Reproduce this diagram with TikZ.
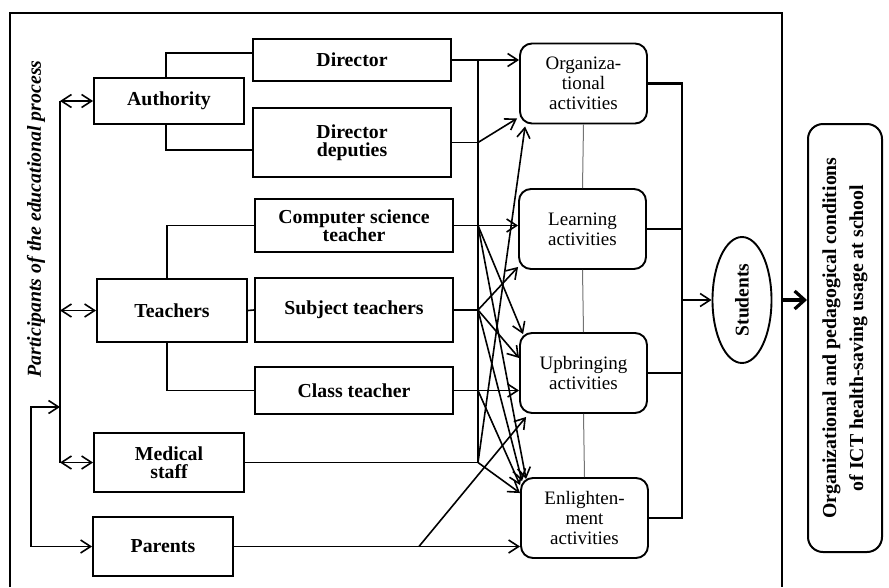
\documentclass[tikz,border=0pt]{standalone}
\usepackage{fontspec}
\setmainfont{Liberation Serif}
\usetikzlibrary{arrows.meta,calc,shapes.geometric}
\begin{document}
\begin{tikzpicture}[x=1pt,y=-1pt,
  box/.style={draw,line width=1.9pt,inner sep=0pt,align=center,font=\fontsize{19.8}{18.5}\selectfont\bfseries},
  act/.style={draw,line width=1.9pt,rounded corners=12pt,inner sep=0pt,minimum width=127pt,minimum height=80pt,align=center,font=\fontsize{19}{20}\selectfont},
  ln/.style={line width=1.6pt},
  arr/.style={ln,-{Straight Barb[length=10pt,width=13pt]}},
  dbl/.style={ln,{Straight Barb[length=10pt,width=13pt]}-{Straight Barb[length=10pt,width=13pt]}},
  sep/.style={black!55,line width=1pt},
  brk/.style={line width=2.8pt},
  big/.style={line width=3.2pt,-{Straight Barb[length=10pt,width=18pt]}}
]
\useasboundingbox (0,0) rectangle (889,587);
% frame
\draw[line width=1.9pt] (10,587) -- (10,13) -- (782,13) -- (782,587);
\coordinate (fr) at (782,0);
\coordinate (bus) at (478,0);
\coordinate (bx) at (682,0);
\coordinate (tr) at (60,0);
\coordinate (lx) at (31,0);

% participants label
\node[rotate=90,font=\fontsize{19.8}{22}\selectfont\bfseries\itshape] (part) at (36,219) {Participants of the educational process};

% left boxes
\node[box,minimum width=150pt,minimum height=46pt] (auth) at (169,101) {Authority};
\node[box,minimum width=150pt,minimum height=63pt] (teach) at (172,310.5) {Teachers};
\node[box,minimum width=150pt,minimum height=59pt] (med) at (169,462.5) {Medical\\staff};
\node[box,minimum width=140pt,minimum height=59pt] (par) at (163,546.5) {Parents};

% middle boxes
\node[box,minimum width=198pt,minimum height=42pt] (dir) at (352,60) {Director};
\node[box,minimum width=198pt,minimum height=69pt] (dep) at (352,142.5) {Director\\deputies};
\node[box,minimum width=198pt,minimum height=53pt] (cs) at (354,225.5) {Computer science\\teacher};
\node[box,minimum width=198pt,minimum height=64pt] (subj) at (354,310) {Subject teachers};
\node[box,minimum width=198pt,minimum height=47pt] (cls) at (354,390.5) {Class teacher};

% activity boxes
\node[act] (org) at (583.5,83.5) {Organiza-\\tional\\activities};
\node[act] (lrn) at (582.5,229) {Learning\\activities};
\node[act] (upb) at (583.5,373) {Upbringing\\activities};
\node[act] (enl) at (584.5,518) {Enlighten-\\ment\\activities};

% students
\node[draw,ellipse,line width=1.9pt,minimum width=59pt,minimum height=126pt,inner sep=0pt] (stud) at (742,300) {};
\node[rotate=90,font=\fontsize{19.5}{20}\selectfont\bfseries] (studt) at (stud.center) {Students};

% result box
\node[draw,rounded corners=15pt,line width=2pt,minimum width=74pt,minimum height=428pt,inner sep=0pt] (res) at (845,338) {};
\node[rotate=90,align=center,font=\fontsize{19.8}{27}\selectfont\bfseries] (rest) at (res.center) {Organizational and pedagogical conditions\\of ICT health-saving usage at school};

% left trunk and double arrows
\draw[ln] (auth.west -| tr) -- (med.west -| tr);
\draw[dbl] (auth.west -| tr) -- (auth.west);
\draw[dbl] (teach.west -| tr) -- (teach.west);
\draw[dbl] (med.west -| tr) -- (med.west);
\coordinate (pj) at (60,407);
\draw[dbl] (pj) -- (pj -| lx) |- (par.west);

% hierarchy connectors
\draw[ln] ([xshift=-3pt]auth.north) |- ([yshift=7pt]dir.west);
\draw[ln] ([xshift=-3pt]auth.south) |- ([yshift=-7.5pt]dep.west);
\draw[ln] ([xshift=-5pt]teach.north) |- (cs.west);
\draw[ln] (teach.east) -- (subj.west);
\draw[ln] ([xshift=-5pt]teach.south) |- (cls.west);

% junctions
\coordinate (jd) at (dep.east -| bus);
\coordinate (jcs) at (cs.east -| bus);
\coordinate (js) at (subj.east -| bus);
\coordinate (jc) at (cls.east -| bus);
\coordinate (jm) at (med.east -| bus);
\coordinate (jp) at ($(par.east)+(185,0)$);

% bus
\draw[ln] (dir.east -| bus) -- (jm);

% arrows to activities
\draw[arr] (dir.east) -- (dir.east -| org.west);
\draw[ln] (dep.east) -- (jd);
\draw[arr] (jd) -- ($(org.south west)+(-2,-6)$);
\draw[arr] (cs.east) -- (cs.east -| lrn.west);
\draw[arr] (jcs) -- ($(upb.north west)+(4,2)$);
\draw[arr] (jcs) -- ($(enl.north west)+(6,2)$);
\draw[ln] (subj.east) -- (js);
\draw[arr] (js) -- ($(lrn.south west)+(0,-3)$);
\draw[arr] (js) -- ($(upb.west)+(0,-15)$);
\draw[arr] (js) -- ($(enl.north west)+(2,4)$);
\draw[arr] (cls.east) -- (cls.east -| upb.west);
\draw[arr] (jc) -- ($(enl.north west)+(0,8)$);
\draw[ln] (med.east) -- (jm);
\draw[arr] (jm) -- ($(org.south west)+(6,2)$);
\draw[arr] (jm) -- ($(enl.north west)+(0,16)$);
\draw[arr] (par.east) -- (par.east -| enl.west);
\draw[arr] (jp) -- ($(upb.south west)+(7,3)$);

% separators between activities
\draw[sep] (org.south) -- (lrn.north);
\draw[sep] (lrn.south) -- (upb.north);
\draw[sep] (upb.south) -- (enl.north);

% bracket to students
\draw[brk] (org.east) -| (enl.east -| bx) -- (enl.east);
\draw[brk] (lrn.east) -- (lrn.east -| bx);
\draw[brk] (upb.east) -- (upb.east -| bx);
\draw[arr] (stud.west -| bx) -- (stud.west);

% big arrow
\draw[big] (stud.west -| fr) -- (stud.west -| res.west);
\end{tikzpicture}
\end{document}
